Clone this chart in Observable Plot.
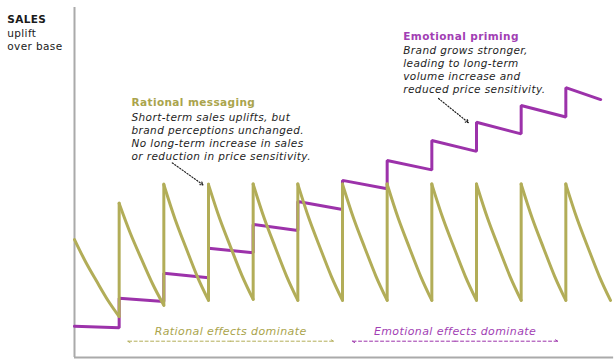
<!DOCTYPE html>
<html><head><meta charset="utf-8">
<script src="https://cdn.jsdelivr.net/npm/d3@7"></script>
<script src="https://cdn.jsdelivr.net/npm/@observablehq/plot@0.6"></script>
<style>body{margin:0;background:#fff;} svg text{letter-spacing:0.4px;}</style>
</head><body><div id="chart"></div>
<script>
// period index (each short-term campaign burst)
const periods = [0,1,2,3,4,5,6,7,8,9,10,11];
// rational (olive) decay curve, values read at 0, 1/4, 1/2, 3/4, 1 of each period
const oliveCycles = [
  [33.7, 27.3, 21.7, 16.3, 11.7],
  [44.0, 35.5, 28.1, 21.0, 14.9],
  [49.4, 39.6, 31.2, 23.1, 16.3],
  [49.4, 39.7, 31.4, 23.4, 16.6],
  [49.5, 39.7, 31.3, 23.2, 16.3],
  [49.5, 39.7, 31.3, 23.2, 16.3],
  [49.5, 39.7, 31.3, 23.2, 16.3],
  [49.5, 39.7, 31.3, 23.2, 16.3],
  [49.5, 39.7, 31.3, 23.2, 16.3],
  [49.5, 39.7, 31.3, 23.2, 16.3],
  [49.5, 39.7, 31.3, 23.2, 16.3],
  [49.5, 39.7, 31.3, 23.2, 16.3]
];
const oliveFractions = [0, 0.25, 0.5, 0.75, 1];
// emotional (purple) step line: level at start and end of each period
const purpleStart = [8.9, 16.9, 24.1, 31.2, 38.0, 44.6, 50.6, 56.3, 62.0, 67.2, 72.0, 77.1];
const purpleEnd   = [8.5, 16.0, 22.8, 29.9, 36.3, 42.3, 48.2, 53.6, 58.9, 63.9, 68.7, 73.7];
const purpleLastEnd = 11.78;

const yLabelLines = ["SALES", "uplift\nover base"];
const rationalTitle = "Rational messaging";
const rationalBody = "Short-term sales uplifts, but\nbrand perceptions unchanged.\nNo long-term increase in sales\nor reduction in price sensitivity.";
const emotionalTitle = "Emotional priming";
const emotionalBody = "Brand grows stronger,\nleading to long-term\nvolume increase and\nreduced price sensitivity.";
const phaseLabels = ["Rational effects dominate", "Emotional effects dominate"];

// annotation anchors in data units (period, uplift)
const labelPos = {
  sales: [-1.507, 96.4], salesSub: [-1.507, 90.9],
  rTitle: [1.276, 72.9], rBody: [1.276, 63.1],
  eTitle: [7.36, 91.8], eBody: [7.36, 82.3]
};
const phaseCenters = [3.495, 8.52];
const phaseExtents = [[1.19, 5.80], [6.22, 10.82]];
const phaseTextV = 7.5, phaseArrowV = 4.66;
const pointers = [
  {x1: 2.19, y1: 55.6, x2: 2.88, y2: 49.3},
  {x1: 8.15, y1: 74.0, x2: 8.82, y2: 67.1}
];

const OLIVE = "#b2ad58";
const OLIVE_TEXT = "#aaa44c";
const PURPLE = "#9c32aa";
const PURPLE_TEXT = "#a23fb4";
const FS = 10.5;

const olivePts = [];
periods.forEach((k, i) => oliveCycles[i].forEach((v, j) => olivePts.push({t: k + oliveFractions[j], v, k})));
const oliveRises = periods.slice(1).map((k) => ({t: k, lo: oliveCycles[k - 1][4], hi: oliveCycles[k][0]}));
const purplePts = [];
periods.forEach((k, i) => {
  purplePts.push({t: k, v: purpleStart[i]});
  purplePts.push({t: i === periods.length - 1 ? purpleLastEnd : k + 1, v: purpleEnd[i]});
});
const phaseArrows = [];
phaseCenters.forEach((c, i) => {
  phaseArrows.push({x1: c, x2: phaseExtents[i][0], i});
  phaseArrows.push({x1: c, x2: phaseExtents[i][1], i});
});

const plot = Plot.plot({
  width: 615, height: 362,
  marginLeft: 74, marginRight: 5, marginTop: 7, marginBottom: 5,
  style: {fontFamily: "DejaVu Sans, sans-serif", background: "#fff"},
  x: {domain: [0, 12], axis: null},
  y: {domain: [0, 100], axis: null},
  marks: [
    Plot.ruleX([0], {y1: 0, y2: 100, stroke: "#aaa", strokeWidth: 2}),
    Plot.ruleY([0], {x1: 0, x2: 12.07, stroke: "#aaa", strokeWidth: 2}),
    Plot.line(purplePts, {x: "t", y: "v", stroke: PURPLE, strokeWidth: 3, strokeLinejoin: "miter"}),
    Plot.line(olivePts, {x: "t", y: "v", z: "k", stroke: OLIVE, strokeWidth: 3, curve: "natural"}),
    Plot.ruleX(oliveRises, {x: "t", y1: "lo", y2: "hi", stroke: OLIVE, strokeWidth: 3, strokeLinecap: "round"}),
    // y label
    Plot.text([yLabelLines[0]], {x: () => labelPos.sales[0], y: () => labelPos.sales[1], text: d => d, textAnchor: "start", fontWeight: "bold", fontSize: FS, fill: "#1a1a1a"}),
    Plot.text([yLabelLines[1]], {x: () => labelPos.salesSub[0], y: () => labelPos.salesSub[1], text: d => d, textAnchor: "start", fontSize: FS, lineHeight: 1.22, fill: "#1a1a1a"}),
    // annotations
    Plot.text([rationalTitle], {x: () => labelPos.rTitle[0], y: () => labelPos.rTitle[1], text: d => d, textAnchor: "start", fontWeight: "bold", fontSize: FS, fill: OLIVE_TEXT}),
    Plot.text([rationalBody], {x: () => labelPos.rBody[0], y: () => labelPos.rBody[1], text: d => d, textAnchor: "start", fontStyle: "italic", fontSize: FS, lineHeight: 1.24, fill: "#1e1e1e"}),
    Plot.text([emotionalTitle], {x: () => labelPos.eTitle[0], y: () => labelPos.eTitle[1], text: d => d, textAnchor: "start", fontWeight: "bold", fontSize: FS, fill: PURPLE_TEXT}),
    Plot.text([emotionalBody], {x: () => labelPos.eBody[0], y: () => labelPos.eBody[1], text: d => d, textAnchor: "start", fontStyle: "italic", fontSize: FS, lineHeight: 1.21, fill: "#1e1e1e"}),
    Plot.arrow(pointers, {x1: "x1", y1: "y1", x2: "x2", y2: "y2", stroke: "#222", strokeWidth: 1.2, strokeDasharray: "1.2,1.8", headLength: 4}),
    // phase labels
    Plot.text(phaseLabels, {x: (d, i) => phaseCenters[i], y: () => phaseTextV, text: d => d, fontStyle: "italic", fontSize: 11, fill: (d, i) => i === 0 ? OLIVE_TEXT : PURPLE_TEXT}),
    Plot.arrow(phaseArrows, {x1: "x1", x2: "x2", y1: () => phaseArrowV, y2: () => phaseArrowV, stroke: d => d.i === 0 ? OLIVE : PURPLE, strokeWidth: 1, strokeDasharray: "3,2.5", headLength: 4})
  ]
});
document.getElementById("chart").append(plot);
</script></body></html>
